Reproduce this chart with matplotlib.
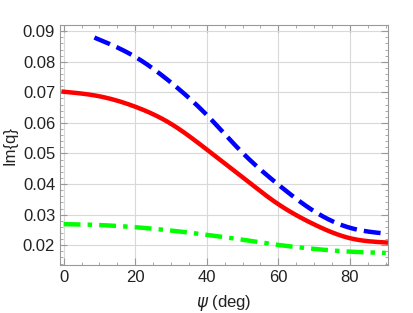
import matplotlib
matplotlib.use("Agg")
import matplotlib.pyplot as plt
from matplotlib.ticker import MultipleLocator
import numpy as np

plt.rcParams['font.family'] = ['Liberation Sans', 'DejaVu Sans']

psi_red = [0, 10, 20, 30, 40, 50, 60, 70, 80, 90]
im_red = [0.0702, 0.0687, 0.0653, 0.0597, 0.0513, 0.0422, 0.0334, 0.0268, 0.0223, 0.0209]

psi_blue = [8.6, 20, 30, 40, 50, 60, 70, 80, 90]
im_blue = [0.0879, 0.0816, 0.0732, 0.0626, 0.0502, 0.0398, 0.0311, 0.0257, 0.0238]

psi_green = [0, 10, 20, 30, 40, 50, 60, 70, 80, 90]
im_green = [0.0269, 0.0266, 0.0259, 0.0248, 0.0234, 0.0218, 0.0201, 0.0188, 0.0179, 0.0175]

x_ticks = [0, 20, 40, 60, 80]
y_ticks = [0.02, 0.03, 0.04, 0.05, 0.06, 0.07, 0.08, 0.09]


def spline(x, y, n=300):
    """Natural cubic spline through the read points."""
    x = np.asarray(x, float); y = np.asarray(y, float)
    N = len(x)
    h = np.diff(x)
    A = np.zeros((N, N)); b = np.zeros(N)
    A[0, 0] = 1; A[-1, -1] = 1
    for i in range(1, N - 1):
        A[i, i-1] = h[i-1]; A[i, i] = 2*(h[i-1] + h[i]); A[i, i+1] = h[i]
        b[i] = 3*((y[i+1]-y[i])/h[i] - (y[i]-y[i-1])/h[i-1])
    c = np.linalg.solve(A, b)
    xs = np.linspace(x[0], x[-1], n)
    idx = np.clip(np.searchsorted(x, xs) - 1, 0, N - 2)
    ys = np.empty_like(xs)
    for k, (xx, i) in enumerate(zip(xs, idx)):
        bi = (y[i+1]-y[i])/h[i] - h[i]*(2*c[i] + c[i+1])/3
        di = (c[i+1] - c[i])/(3*h[i])
        t = xx - x[i]
        ys[k] = y[i] + bi*t + c[i]*t**2 + di*t**3
    return xs, ys


fig = plt.figure(figsize=(4.14, 3.13), dpi=100)
ax = fig.add_axes([0.145, 0.153, 0.792, 0.767])

xs, ys = spline(psi_blue, im_blue)
ax.plot(xs, ys, color=(0, 0, 1), lw=3.2, dashes=(3.8, 1.6))
xs, ys = spline(psi_red, im_red)
ax.plot(xs, ys, color=(1, 0, 0), lw=3.2)
xs, ys = spline(psi_green, im_green)
ax.plot(xs, ys, color=(0, 1, 0), lw=3.2, dashes=(3.8, 1.6, 1.0, 1.6))

ax.set_xlim(-1, 90.6)
ax.set_ylim(0.0135, 0.092)
ax.set_xticks(x_ticks)
ax.set_yticks(y_ticks)
ax.set_yticklabels([f"{v:.2f}" for v in y_ticks])
ax.xaxis.set_minor_locator(MultipleLocator(5))
ax.yaxis.set_minor_locator(MultipleLocator(0.002))
ax.grid(True, which='major', color='#d9d9d9', lw=0.8)
ax.set_axisbelow(True)
for s in ax.spines.values():
    s.set_color('#999999')
    s.set_linewidth(0.8)
ax.tick_params(which='both', direction='in', top=True, right=True,
               color='#999999', labelsize=12, labelcolor='#222222')
ax.tick_params(which='major', length=5)
ax.tick_params(which='minor', length=2.5)
ax.tick_params(axis='x', which='both', labeltop=False)
ax.tick_params(axis='y', which='both', labelright=False)

ax.set_xlabel(r"$\psi$ (deg)", fontsize=12, color='#222222', labelpad=6)
ax.set_ylabel("Im{q}", fontsize=12, color='#222222')

fig.savefig("out.png", dpi=100)
